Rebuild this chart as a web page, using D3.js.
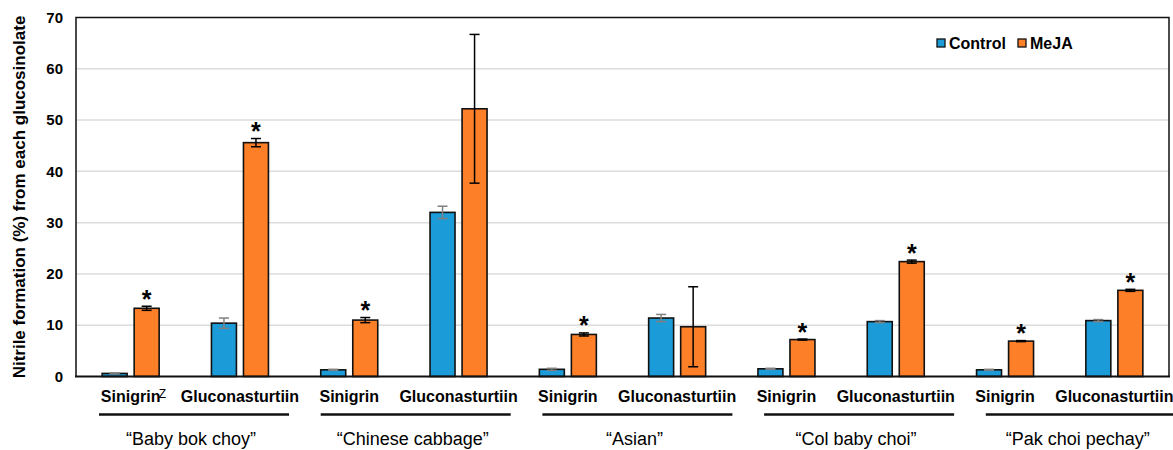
<!DOCTYPE html>
<html>
<head>
<meta charset="utf-8">
<script src="https://cdn.jsdelivr.net/npm/d3@7"></script>
<style>
  body { margin: 0; background: #fff; }
  text { font-family: "Liberation Sans", Arial, sans-serif; }
</style>
</head>
<body>
<div id="chart"></div>
<script>
// DATA
const varieties = ['\u201cBaby bok choy\u201d', '\u201cChinese cabbage\u201d', '\u201cAsian\u201d', '\u201cCol baby choi\u201d', '\u201cPak choi pechay\u201d'];
const glucosinolates = ['Sinigrin', 'Gluconasturtiin'];
const series = ['Control', 'MeJA'];
// one value per variety x glucosinolate, in order
const controlValues = [0.6, 10.4, 1.3, 32.0, 1.4, 11.4, 1.5, 10.7, 1.3, 10.9];
const controlErrors = [0.1, 1.0, 0.1, 1.2, 0.2, 0.7, 0.1, 0.2, 0.1, 0.2];
const mejaValues = [13.3, 45.6, 11.0, 52.2, 8.2, 9.7, 7.2, 22.4, 6.9, 16.8];
const mejaErrors = [0.4, 0.8, 0.5, 14.5, 0.3, 7.8, 0.1, 0.3, 0.1, 0.2];
const significant = [true, true, true, false, true, false, true, true, true, true];
const yTicks = [0, 10, 20, 30, 40, 50, 60, 70];

const colors = {Control: '#1b9bd7', MeJA: '#fd7f28'};
const errColors = {Control: '#808080', MeJA: '#000'};

// CHART
const width = 1173, height = 450;
const margin = {left: 76, top: 17.5, right: 4, bottom: 73};

const svg = d3.select('#chart').append('svg')
  .attr('width', width)
  .attr('height', height);

let categories = [];
varieties.forEach(function(v, i) {
  glucosinolates.forEach(function(g, j) {
    let k = i * 2 + j;
    categories.push({
      key: v + '|' + g, variety: v, gluc: g, idx: k,
      values: [
        {s: 'Control', v: controlValues[k], e: controlErrors[k]},
        {s: 'MeJA', v: mejaValues[k], e: mejaErrors[k]}
      ]
    });
  });
});

const x = d3.scaleBand()
  .domain(categories.map(d => d.key))
  .range([margin.left, width - margin.right]);

const bw = x.bandwidth();
const x1 = d3.scaleBand()
  .domain(series)
  .range([bw / 2 - 28.5, bw / 2 + 28.5])
  .paddingInner(0.22);

const y = d3.scaleLinear()
  .domain([0, 70])
  .range([height - margin.bottom - 0.5, margin.top]);

// grid
svg.append('g')
  .selectAll('line')
  .data(yTicks.filter(t => t > 0 && t < 70))
  .enter().append('line')
  .attr('x1', margin.left).attr('x2', width - margin.right)
  .attr('y1', d => y(d)).attr('y2', d => y(d))
  .style('stroke', '#dcdcdc')
  .style('stroke-width', 1.5);

// y tick labels
svg.append('g')
  .selectAll('text')
  .data(yTicks)
  .enter().append('text')
  .attr('x', 63)
  .attr('y', d => y(d))
  .attr('dy', '0.35em')
  .attr('text-anchor', 'end')
  .style('font-size', '15px')
  .style('font-weight', 'bold')
  .text(d => d);

// y title
svg.append('text')
  .attr('transform', 'translate(25,' + ((y(0) + y(70)) / 2 + 0) + ') rotate(-90)')
  .attr('text-anchor', 'middle')
  .style('font-size', '17px')
  .style('font-weight', 'bold')
  .text('Nitrile formation (%) from each glucosinolate');

// bars
const groups = svg.append('g')
  .selectAll('g')
  .data(categories)
  .enter().append('g')
  .attr('transform', d => 'translate(' + x(d.key) + ',0)');

groups.selectAll('rect')
  .data(d => d.values)
  .enter().append('rect')
  .attr('x', d => x1(d.s))
  .attr('width', x1.bandwidth())
  .attr('y', d => y(d.v))
  .attr('height', d => y(0) - y(d.v))
  .style('fill', d => colors[d.s])
  .style('stroke', '#111')
  .style('stroke-width', 1.6);

// error bars
const err = groups.selectAll('.err')
  .data(d => d.values)
  .enter().append('g').attr('class', 'err')
  .attr('transform', d => 'translate(' + (x1(d.s) + x1.bandwidth() / 2) + ',0)')
  .style('stroke', d => errColors[d.s])
  .style('stroke-width', 1.5);
err.append('line')
  .attr('y1', d => y(d.v - d.e)).attr('y2', d => y(d.v + d.e));
err.append('line')
  .attr('x1', -5).attr('x2', 5)
  .attr('y1', d => y(d.v + d.e)).attr('y2', d => y(d.v + d.e));
err.append('line')
  .attr('x1', -5).attr('x2', 5)
  .attr('y1', d => y(d.v - d.e)).attr('y2', d => y(d.v - d.e));

// stars
groups.filter(d => significant[d.idx])
  .append('text')
  .attr('x', x1('MeJA') + x1.bandwidth() / 2)
  .attr('y', d => y(d.values[1].v + d.values[1].e) + 1.5)
  .attr('text-anchor', 'middle')
  .style('font-size', '25px')
  .style('font-weight', 'bold')
  .text('*');

// frame
svg.append('path')
  .attr('d', 'M' + margin.left + ',' + y(0) + 'V' + y(70) + 'H' + (width - margin.right) + 'V' + y(0))
  .style('fill', 'none')
  .style('stroke', '#111')
  .style('stroke-width', 1.5);
svg.append('line')
  .attr('x1', margin.left - 1).attr('x2', width - margin.right + 1)
  .attr('y1', y(0)).attr('y2', y(0))
  .style('stroke', '#111')
  .style('stroke-width', 2.2);

// x labels
svg.append('g')
  .selectAll('text')
  .data(categories)
  .enter().append('text')
  .attr('x', d => x(d.key) + bw / 2)
  .attr('y', 402)
  .attr('text-anchor', 'middle')
  .style('font-size', '16px')
  .style('font-weight', 'bold')
  .text(d => d.gluc);

svg.append('text')
  .attr('x', x(categories[0].key) + bw / 2 + 28)
  .attr('y', 397.5)
  .style('font-size', '12px')
  .text('Z');

// variety underlines and names
const lineStep = 221.7, lineStart = 99, lineLen = 190;
svg.append('g')
  .selectAll('line')
  .data(varieties)
  .enter().append('line')
  .attr('x1', (d, i) => lineStart + i * lineStep)
  .attr('x2', (d, i) => lineStart + i * lineStep + lineLen)
  .attr('y1', 414.5).attr('y2', 414.5)
  .style('stroke', '#111')
  .style('stroke-width', 2.5);

svg.append('g')
  .selectAll('text')
  .data(varieties)
  .enter().append('text')
  .attr('x', (d, i) => lineStart + i * lineStep + lineLen / 2 - 3)
  .attr('y', 445)
  .attr('text-anchor', 'middle')
  .style('font-size', '18px')
  .text(d => d);

// legend
const legend = svg.append('g').attr('transform', 'translate(937,39)');
const legendX = [0, 81];
series.forEach(function(s, i) {
  let g = legend.append('g').attr('transform', 'translate(' + legendX[i] + ',0)');
  g.append('rect')
    .attr('width', 8).attr('height', 8)
    .style('fill', colors[s])
    .style('stroke', '#111')
    .style('stroke-width', 1.3);
  g.append('text')
    .attr('x', 12).attr('y', 10)
    .style('font-size', '16px')
    .style('font-weight', 'bold')
    .text(s);
});
</script>
</body>
</html>
